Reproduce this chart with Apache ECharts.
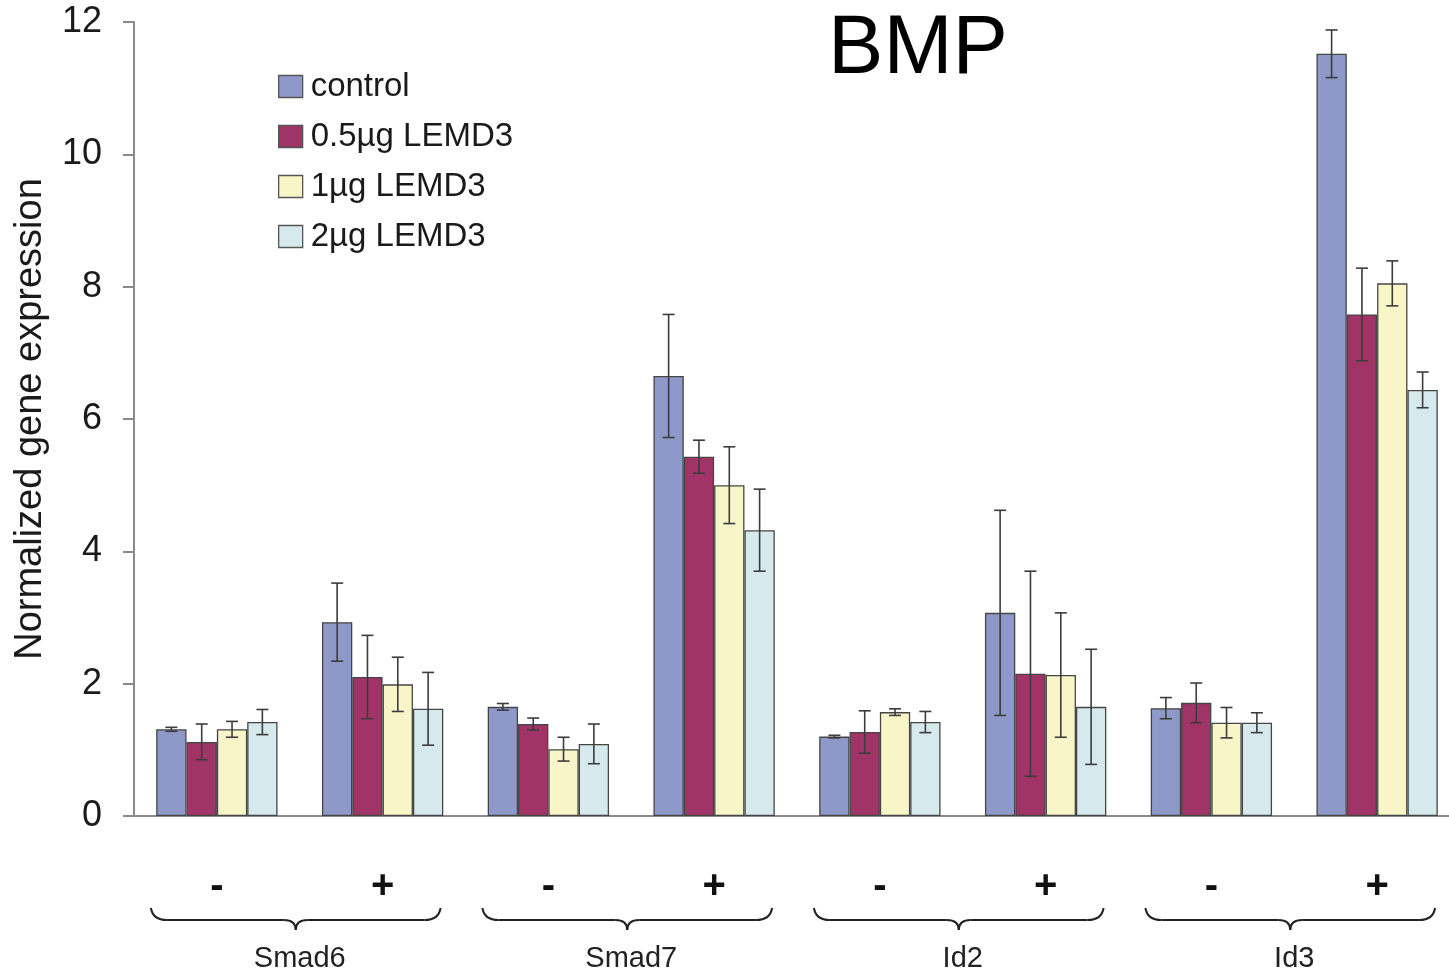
<!DOCTYPE html>
<html>
<head>
<meta charset="utf-8">
<script src="https://cdn.jsdelivr.net/npm/echarts@6/dist/echarts.min.js"></script>
<style>
html,body{margin:0;padding:0;background:#fff;}
#chart{width:1449px;height:971px;}
</style>
</head>
<body>
<div id="chart"></div>
<script>
// ---- data ----
const categories = ['-', '+', '-', '+', '-', '+', '-', '+'];
const genes = ['Smad6', 'Smad7', 'Id2', 'Id3'];
const seriesNames = ['control', '0.5\u00b5g LEMD3', '1\u00b5g LEMD3', '2\u00b5g LEMD3'];
const control    = [1.31, 2.93, 1.65, 6.65, 1.20, 3.07, 1.63, 11.52];
const controlErr = [0.03, 0.59, 0.05, 0.93, 0.02, 1.55, 0.16, 0.36];
const lemd05     = [1.12, 2.10, 1.39, 5.43, 1.27, 2.15, 1.71, 7.58];
const lemd05Err  = [0.27, 0.63, 0.09, 0.25, 0.32, 1.55, 0.30, 0.70];
const lemd1      = [1.31, 1.99, 1.01, 5.00, 1.57, 2.13, 1.41, 8.05];
const lemd1Err   = [0.12, 0.41, 0.18, 0.58, 0.05, 0.94, 0.23, 0.34];
const lemd2      = [1.42, 1.62, 1.09, 4.32, 1.42, 1.65, 1.41, 6.44];
const lemd2Err   = [0.19, 0.55, 0.30, 0.62, 0.16, 0.87, 0.15, 0.27];
const yTicks = [0, 2, 4, 6, 8, 10, 12];

const values = [control, lemd05, lemd1, lemd2];
const errors = [controlErr, lemd05Err, lemd1Err, lemd2Err];
const colors = ['#8f99c9', '#a03466', '#f8f6c9', '#d6eaed'];
const BAR_FRAC = 0.183;
const FONT = '"Liberation Sans", Arial, sans-serif';

const chart = echarts.init(document.getElementById('chart'), null, {renderer: 'canvas'});

const barSeries = values.map((vals, k) => ({
  name: seriesNames[k],
  type: 'bar',
  xAxisIndex: 0,
  data: vals,
  barWidth: (BAR_FRAC * 100) + '%',
  barGap: '0%',
  itemStyle: {color: colors[k], borderColor: '#454545', borderWidth: 1.3},
  emphasis: {disabled: true},
  z: 2
}));

const errSeries = values.map((vals, k) => ({
  type: 'custom',
  xAxisIndex: 0,
  data: vals.map((v, i) => [i, v, errors[k][i]]),
  encode: {x: 0, y: 1},
  z: 5,
  silent: true,
  renderItem: function (params, api) {
    const x = api.value(0), v = api.value(1), e = api.value(2);
    const band = api.size([1, 0])[0];
    const off = band * BAR_FRAC * (k - 1.5);
    const hi = api.coord([x, v + e]);
    const lo = api.coord([x, Math.max(0, v - e)]);
    const cx = hi[0] + off;
    const cap = 6;
    const st = {stroke: '#3c3c3c', lineWidth: 1.6};
    return {
      type: 'group',
      children: [
        {type: 'line', shape: {x1: cx, y1: hi[1], x2: cx, y2: lo[1]}, style: st},
        {type: 'line', shape: {x1: cx - cap, y1: hi[1], x2: cx + cap, y2: hi[1]}, style: st},
        {type: 'line', shape: {x1: cx - cap, y1: lo[1], x2: cx + cap, y2: lo[1]}, style: st}
      ]
    };
  }
}));

const option = {
  backgroundColor: '#ffffff',
  animation: false,
  title: {
    text: 'BMP',
    left: 913,
    top: 4,
    textAlign: 'center',
    textStyle: {fontFamily: FONT, fontSize: 83, fontWeight: 'normal', color: '#000'}
  },
  legend: {
    orient: 'vertical',
    left: 273,
    top: 65,
    icon: 'rect',
    itemWidth: 24,
    itemHeight: 22,
    itemGap: 17,
    data: seriesNames,
    textStyle: {fontFamily: FONT, fontSize: 33, color: '#1a1a1a', padding: [0, 0, 0, 3]},
    itemStyle: {borderColor: '#555', borderWidth: 1.3}
  },
  grid: {left: 134, width: 1326, top: 22, height: 794, containLabel: false, outerBoundsMode: 'none'},
  xAxis: [
    {
      type: 'category',
      data: categories,
      axisLine: {show: true, lineStyle: {color: '#8a8a8a', width: 2}},
      axisTick: {show: false},
      axisLabel: {fontFamily: FONT, fontSize: 40, fontWeight: 'bold', color: '#111', margin: 51},
      splitLine: {show: false}
    },
    {
      type: 'category',
      data: genes,
      position: 'bottom',
      axisLine: {show: false},
      axisTick: {show: false},
      axisLabel: {fontFamily: FONT, fontSize: 29, color: '#222', margin: 128},
      splitLine: {show: false}
    }
  ],
  yAxis: {
    type: 'value',
    min: 0,
    max: 12,
    interval: 2,
    name: 'Normalized gene expression',
    nameLocation: 'middle',
    nameGap: 84,
    nameTextStyle: {fontFamily: FONT, fontSize: 38, color: '#1a1a1a'},
    axisLine: {show: true, lineStyle: {color: '#8a8a8a', width: 2}},
    axisTick: {show: true, inside: false, length: 11, lineStyle: {color: '#8a8a8a', width: 2}},
    axisLabel: {fontFamily: FONT, fontSize: 36, color: '#1a1a1a', margin: 32,
      formatter: v => yTicks.indexOf(v) >= 0 ? String(v) : ''},
    splitLine: {show: false}
  },
  series: barSeries.concat(errSeries)
};

chart.setOption(option);

// braces under each gene pair, positioned via the gene axis scale
function drawBraces() {
  const p0 = chart.convertToPixel({xAxisIndex: 1}, genes[0]);
  const p1 = chart.convertToPixel({xAxisIndex: 1}, genes[1]);
  const band = p1 - p0;
  const half = band * 0.437;
  const y0 = 908, y1 = 920, y2 = 930, r = 16;
  const st = {fill: null, stroke: '#222', lineWidth: 2};
  const elems = genes.map(g => {
    const xc = chart.convertToPixel({xAxisIndex: 1}, g) - 4;
    const xa = xc - half, xb = xc + half;
    return {
      type: 'group',
      silent: true,
      children: [
        {type: 'bezierCurve', shape: {x1: xa, y1: y0, cpx1: xa + 2, cpy1: y1, x2: xa + r, y2: y1}, style: st},
        {type: 'line', shape: {x1: xa + r, y1: y1, x2: xc - 12, y2: y1}, style: st},
        {type: 'bezierCurve', shape: {x1: xc - 12, y1: y1, cpx1: xc, cpy1: y1, x2: xc, y2: y2}, style: st},
        {type: 'bezierCurve', shape: {x1: xc + 12, y1: y1, cpx1: xc, cpy1: y1, x2: xc, y2: y2}, style: st},
        {type: 'line', shape: {x1: xc + 12, y1: y1, x2: xb - r, y2: y1}, style: st},
        {type: 'bezierCurve', shape: {x1: xb - r, y1: y1, cpx1: xb - 2, cpy1: y1, x2: xb, y2: y0}, style: st}
      ]
    };
  });
  chart.setOption({graphic: elems});
}
drawBraces();
</script>
</body>
</html>
